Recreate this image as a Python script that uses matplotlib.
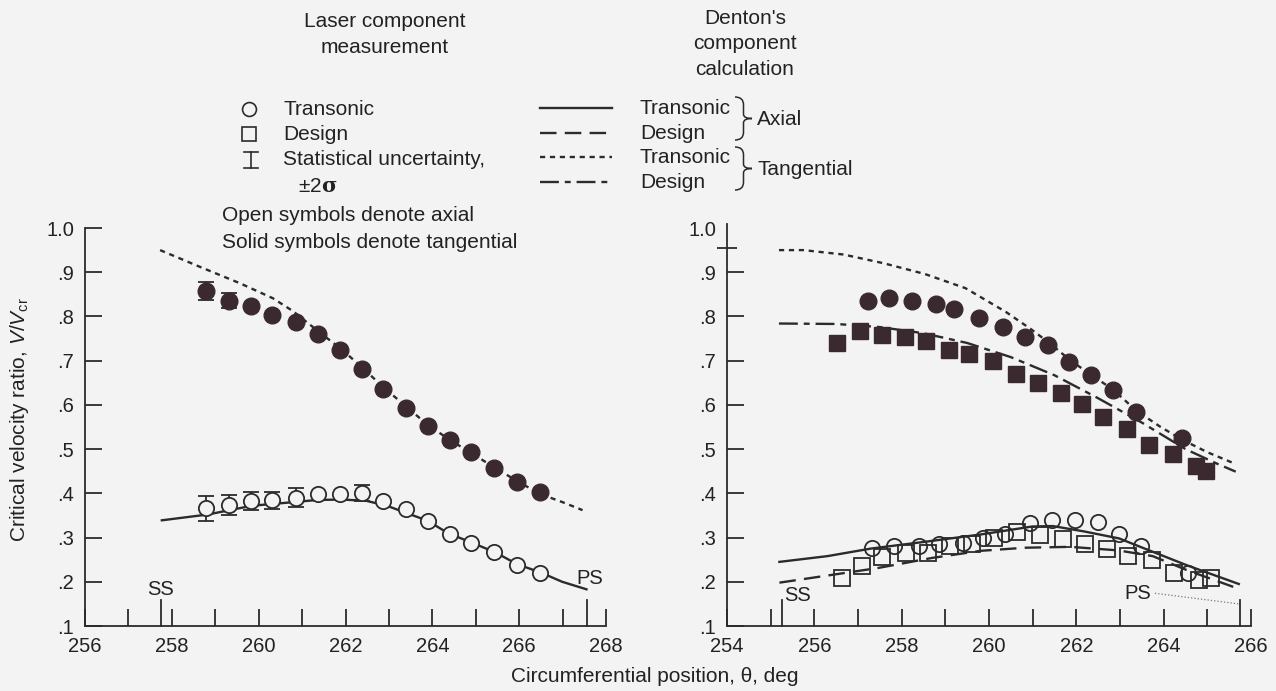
import matplotlib.pyplot as plt
import numpy as np
from matplotlib.path import Path
from matplotlib.patches import PathPatch

plt.rcParams['font.family'] = ['Liberation Sans', 'DejaVu Sans']
plt.rcParams['mathtext.fontset'] = 'custom'
plt.rcParams['mathtext.rm'] = 'Liberation Sans'
plt.rcParams['mathtext.it'] = 'Liberation Sans:italic'
plt.rcParams['mathtext.bf'] = 'DejaVu Serif:bold'

PAPER = '#f3f3f3'
INK = '#2b2b2b'
FILL = '#3a2a2f'

# ---- left panel: measurement vs calculation at transonic condition ----
left_x = [258.79, 259.31, 259.82, 260.30, 260.86, 261.36, 261.88, 262.38, 262.87, 263.39,
          263.89, 264.40, 264.90, 265.42, 265.95, 266.47]
left_tan = [0.858, 0.836, 0.824, 0.803, 0.788, 0.760, 0.723, 0.681, 0.637, 0.593,
            0.552, 0.520, 0.493, 0.458, 0.426, 0.402]
left_tan_err = [0.020, 0.017, 0, 0, 0, 0, 0, 0, 0, 0, 0, 0, 0, 0, 0, 0]
left_ax = [0.366, 0.374, 0.382, 0.384, 0.390, 0.398, 0.398, 0.400, 0.382, 0.364,
           0.337, 0.308, 0.288, 0.268, 0.237, 0.220]
left_ax_err = [0.028, 0.022, 0.020, 0.020, 0.022, 0, 0, 0.018, 0, 0, 0, 0, 0, 0, 0, 0]

left_calc_tan_x = [257.73, 258.65, 259.57, 260.33, 260.79, 261.25, 261.94, 262.38, 262.87, 263.39,
                   263.89, 264.40, 264.90, 265.42, 265.95, 266.47, 267.00, 267.46]
left_calc_tan = [0.950, 0.912, 0.875, 0.841, 0.812, 0.776, 0.723, 0.685, 0.640, 0.597,
                 0.555, 0.521, 0.491, 0.459, 0.428, 0.399, 0.380, 0.362]
left_calc_ax_x = [257.77, 258.82, 259.85, 260.79, 261.35, 261.92, 262.48, 262.95, 263.42, 263.89,
                  264.36, 264.92, 265.44, 265.95, 266.52, 266.99, 267.55]
left_calc_ax = [0.339, 0.352, 0.372, 0.380, 0.385, 0.386, 0.383, 0.372, 0.355, 0.338,
                0.310, 0.288, 0.267, 0.240, 0.220, 0.200, 0.183]
left_ss, left_ps = 257.75, 267.57

# ---- right panel: transonic and design conditions ----
r_tt_x = [257.23, 257.71, 258.23, 258.78, 259.20, 259.77, 260.32, 260.83, 261.34, 261.83,
          262.34, 262.85, 263.36, 264.41]
r_tt = [0.836, 0.842, 0.834, 0.828, 0.816, 0.797, 0.775, 0.753, 0.736, 0.697,
        0.668, 0.634, 0.583, 0.525]
r_td_x = [256.53, 257.05, 257.54, 258.07, 258.56, 259.09, 259.55, 260.09, 260.62, 261.13,
          261.64, 262.13, 262.62, 263.17, 263.67, 264.22, 264.75, 264.98]
r_td = [0.739, 0.766, 0.757, 0.753, 0.744, 0.724, 0.716, 0.700, 0.670, 0.649,
        0.628, 0.602, 0.573, 0.545, 0.510, 0.490, 0.461, 0.450]
r_at_x = [257.32, 257.82, 258.39, 258.86, 259.41, 259.86, 260.37, 260.95, 261.44, 261.98,
          262.50, 262.97, 263.48, 264.56]
r_at = [0.276, 0.280, 0.282, 0.285, 0.288, 0.298, 0.309, 0.332, 0.339, 0.340,
        0.335, 0.308, 0.280, 0.220]
r_ad_x = [256.64, 257.10, 257.56, 258.10, 258.60, 259.11, 259.60, 260.12, 260.65, 261.17,
          261.70, 262.20, 262.71, 263.18, 263.74, 264.24, 264.80, 265.08]
r_ad = [0.209, 0.235, 0.257, 0.265, 0.265, 0.282, 0.286, 0.300, 0.313, 0.306,
        0.296, 0.286, 0.273, 0.258, 0.249, 0.220, 0.205, 0.208]

r_calc_tt_x = [255.19, 255.75, 256.67, 257.60, 258.53, 259.46, 260.39, 260.95, 261.41, 261.87,
               262.34, 262.85, 263.36, 263.90, 264.41, 265.00, 265.63]
r_calc_tt = [0.950, 0.950, 0.940, 0.920, 0.896, 0.864, 0.810, 0.772, 0.738, 0.700,
             0.668, 0.634, 0.588, 0.552, 0.522, 0.493, 0.467]
r_calc_td_x = [255.19, 256.50, 257.50, 258.50, 259.50, 260.50, 261.50, 262.50, 263.50, 264.50,
               265.20, 265.65]
r_calc_td = [0.784, 0.783, 0.776, 0.762, 0.740, 0.708, 0.667, 0.615, 0.560, 0.500,
             0.468, 0.449]
r_calc_at_x = [255.20, 256.30, 257.29, 258.50, 259.81, 260.99, 261.46, 262.17, 262.98, 263.49,
               264.54, 265.72]
r_calc_at = [0.245, 0.258, 0.275, 0.290, 0.307, 0.325, 0.326, 0.314, 0.298, 0.278,
             0.237, 0.195]
r_calc_ad_x = [255.20, 257.45, 258.70, 259.81, 260.83, 261.86, 262.96, 263.75, 264.54, 265.72]
r_calc_ad = [0.198, 0.231, 0.254, 0.270, 0.277, 0.279, 0.271, 0.258, 0.226, 0.184]
right_ss, right_ps = 255.25, 265.75
right_mark = 0.955

y_ticks = [0.1, 0.2, 0.3, 0.4, 0.5, 0.6, 0.7, 0.8, 0.9, 1.0]
y_labels = ['.1', '.2', '.3', '.4', '.5', '.6', '.7', '.8', '.9', '1.0']

# line styles (dash patterns in units of linewidth)
LW = 1.7
ST_SOLID = dict(color=INK, lw=LW, ls='-')
ST_LONG = dict(color=INK, lw=LW, ls=(0, (7, 3.5)))
ST_SHORT = dict(color=INK, lw=LW, ls=(0, (2.2, 2.0)))
ST_DASHDOT = dict(color=INK, lw=LW, ls=(0, (8, 2.5, 2.5, 2.5)))

W, H = 1276, 691
fig = plt.figure(figsize=(W / 100, H / 100), dpi=100, facecolor=PAPER)


def px_axes(x0, x1, y_lo, y_hi):
    return fig.add_axes([x0 / W, 1 - y_lo / H, (x1 - x0) / W, (y_lo - y_hi) / H])


def style_axes(ax, xmin, xmax, ss, ps):
    ax.set_facecolor('none')
    for s in ('top', 'right'):
        ax.spines[s].set_visible(False)
    for s in ('left', 'bottom'):
        ax.spines[s].set_linewidth(1.3)
        ax.spines[s].set_color(INK)
    ax.set_xlim(xmin, xmax)
    ax.set_ylim(0.1, 1.0)
    ax.set_xticks(np.arange(xmin, xmax + 1, 2))
    ax.set_xticks(np.arange(xmin + 1, xmax, 2), minor=True)
    ax.set_yticks(y_ticks)
    ax.set_yticklabels(y_labels)
    ax.tick_params(which='both', direction='in', length=12, width=1.3, color=INK,
                   labelsize=14.5, labelcolor='#222222', pad=8)
    # suction / pressure surface markers
    for pos in (ss, ps):
        ax.plot([pos, pos], [0.1, 0.158], color=INK, lw=1.3, clip_on=False)


def open_marks(ax, x, y, marker, size, face=PAPER):
    ax.plot(x, y, ls='none', marker=marker, ms=size, mfc=face, mec=INK, mew=1.3, zorder=4)


def solid_marks(ax, x, y, marker, size):
    ax.plot(x, y, ls='none', marker=marker, ms=size, mfc=FILL, mec=FILL, mew=1.0, zorder=4)


def error_bars(ax, x, y, err):
    x, y, err = np.array(x), np.array(y), np.array(err)
    keep = err > 0
    ax.errorbar(x[keep], y[keep], yerr=err[keep], fmt='none', ecolor=INK,
                elinewidth=1.3, capsize=5.5, capthick=1.3, zorder=3)


# left panel
axl = px_axes(85, 606, 626, 228)
style_axes(axl, 256, 268, left_ss, left_ps)
axl.plot(left_calc_tan_x, left_calc_tan, **ST_SHORT)
axl.plot(left_calc_ax_x, left_calc_ax, **ST_SOLID)
error_bars(axl, left_x, left_tan, left_tan_err)
error_bars(axl, left_x, left_ax, left_ax_err)
solid_marks(axl, left_x, left_tan, 'o', 12)
open_marks(axl, left_x, left_ax, 'o', 11)
axl.text(left_ss, 0.182, 'SS', ha='center', va='center', fontsize=14.5, color='#222222')
axl.text(left_ps + 0.05, 0.207, 'PS', ha='center', va='center', fontsize=14.5, color='#222222')

# right panel
axr = px_axes(727, 1251, 626, 228)
style_axes(axr, 254, 266, right_ss, right_ps)
axr.spines['left'].set_bounds(0.1, 1.01)
axr.yaxis.get_major_ticks()[-1].tick1line.set_visible(False)
axr.plot([254], [right_mark], color=INK, marker='_', ms=14, mew=1.3, clip_on=False)
axr.plot(r_calc_tt_x, r_calc_tt, **ST_SHORT)
axr.plot(r_calc_td_x, r_calc_td, **ST_DASHDOT)
axr.plot(r_calc_at_x, r_calc_at, **ST_SOLID)
axr.plot(r_calc_ad_x, r_calc_ad, **ST_LONG)
solid_marks(axr, r_tt_x, r_tt, 'o', 12)
solid_marks(axr, r_td_x, r_td, 's', 11.5)
open_marks(axr, r_ad_x, r_ad, 's', 11, face='none')
open_marks(axr, r_at_x, r_at, 'o', 11, face='none')
axr.text(255.32, 0.168, 'SS', ha='left', va='center', fontsize=14.5, color='#222222')
axr.text(263.4, 0.174, 'PS', ha='center', va='center', fontsize=14.5, color='#222222')
axr.plot([263.8, 265.72], [0.174, 0.150], color='#777777', lw=0.9, ls=':')

# overlay in pixel units for titles and key
ov = fig.add_axes([0, 0, 1, 1], zorder=-1)
ov.set_xlim(0, W)
ov.set_ylim(H, 0)
ov.axis('off')

TXT = dict(fontsize=15, color='#222222', va='center')
ov.text(385, 21, 'Laser component', ha='center', **TXT)
ov.text(385, 47, 'measurement', ha='center', **TXT)
ov.text(745, 18, "Denton's", ha='center', **TXT)
ov.text(745, 43, 'component', ha='center', **TXT)
ov.text(745, 69, 'calculation', ha='center', **TXT)

ov.plot([249], [109], marker='o', ms=10, mfc=PAPER, mec=INK, mew=1.2)
ov.plot([249], [134], marker='s', ms=10, mfc=PAPER, mec=INK, mew=1.2)
ov.plot([251, 251], [152, 168], color=INK, lw=1.2)
ov.plot([244, 258], [152, 152], color=INK, lw=1.2)
ov.plot([244, 258], [168, 168], color=INK, lw=1.2)
ov.text(283, 109, 'Transonic', ha='left', **TXT)
ov.text(283, 134, 'Design', ha='left', **TXT)
ov.text(283, 159, 'Statistical uncertainty,', ha='left', **TXT)
ov.text(298, 186, r'$\pm$2$\mathbf{\sigma}$', ha='left', **TXT)
ov.text(222, 215, 'Open symbols denote axial', ha='left', **TXT)
ov.text(222, 242, 'Solid symbols denote tangential', ha='left', **TXT)

key_rows = [108, 133, 157, 182]
key_styles = [ST_SOLID, ST_LONG, ST_SHORT, ST_DASHDOT]
key_names = ['Transonic', 'Design', 'Transonic', 'Design']
for yy, st, name in zip(key_rows, key_styles, key_names):
    ov.plot([540, 612], [yy, yy], **st)
    ov.text(640, yy, name, ha='left', **TXT)


def brace(x0, x1, ytop, ybot):
    xm = (x0 + x1) / 2
    ym = (ytop + ybot) / 2
    h = ybot - ytop
    verts = [(x0, ytop), (xm, ytop), (xm, ytop + 0.18 * h), (xm, ym - 0.1 * h),
             (xm, ym), (x1, ym), (xm, ym), (xm, ym + 0.1 * h),
             (xm, ybot - 0.18 * h), (xm, ybot), (x0, ybot)]
    codes = [Path.MOVETO, Path.CURVE3, Path.CURVE3, Path.LINETO,
             Path.CURVE3, Path.CURVE3, Path.CURVE3, Path.CURVE3,
             Path.LINETO, Path.CURVE3, Path.CURVE3]
    ov.add_patch(PathPatch(Path(verts, codes), fc='none', ec=INK, lw=1.1))


brace(735, 752, 97, 140)
brace(735, 752, 147, 190)
ov.text(757, 119, 'Axial', ha='left', **TXT)
ov.text(757, 169, 'Tangential', ha='left', **TXT)

fig.text(20 / W, 1 - 420 / H, r'Critical velocity ratio, $V/V_{\mathrm{cr}}$', rotation=90,
         ha='center', va='center', fontsize=15, color='#222222')
fig.text(655 / W, 1 - 677 / H, 'Circumferential position, \u03b8, deg',
         ha='center', va='center', fontsize=15, color='#222222')

fig.savefig('out.png', dpi=100, facecolor=PAPER)
